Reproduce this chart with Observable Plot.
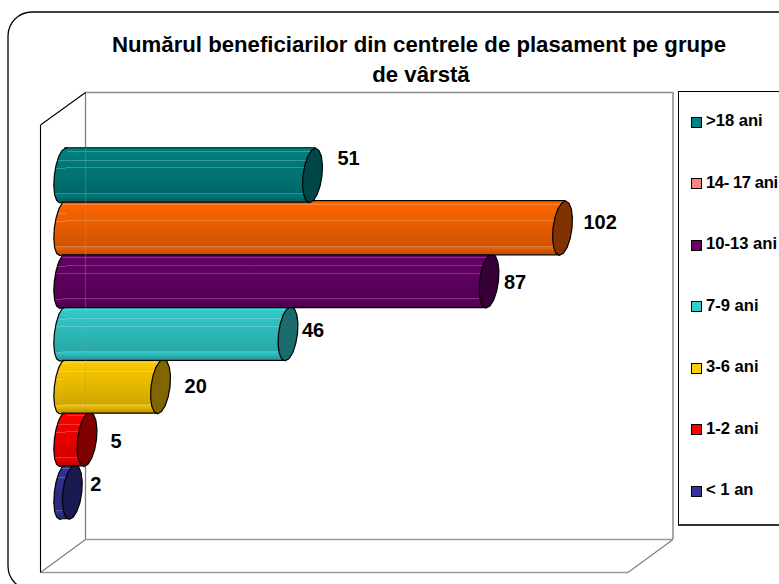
<!DOCTYPE html>
<html>
<head>
<meta charset="utf-8">
<script src="https://cdn.jsdelivr.net/npm/d3@7"></script>
<script src="https://cdn.jsdelivr.net/npm/@observablehq/plot@0.6"></script>
<style>
  html, body { margin: 0; padding: 0; background: #fff; overflow: hidden; }
  #root { position: relative; width: 779px; height: 584px; font-family: "Liberation Sans", Arial, sans-serif; color: #000; overflow: hidden; }
  #root svg { position: absolute; left: 0; top: 0; }
  #title { position: absolute; left: 60px; top: 30px; width: 718px; text-align: center; font-weight: bold; font-size: 22.2px; line-height: 30px; z-index: 2; }
  #title span { display: block; white-space: nowrap; }
  #title span + span { margin-left: 4px; }
  #legend { position: absolute; left: 678px; top: 91px; width: 120px; height: 432px; border: 1px solid #000; border-bottom: 2px solid #333; background: #fff; z-index: 2; }
  .item { position: absolute; left: 12px; display: flex; align-items: center; font-weight: bold; font-size: 16.6px; line-height: 20px; white-space: nowrap; }
  .swatch { width: 9px; height: 9px; border: 1px solid #000; margin-right: 4px; flex: none; position: relative; top: 1px; }
  .tight { letter-spacing: -0.4px; }
</style>
</head>
<body>
<div id="root">
  <div id="title"><span>Numărul beneficiarilor din centrele de plasament pe grupe</span><span>de vârstă</span></div>
  <div id="legend"></div>
</div>
<script>
const categories = [">18 ani", "14- 17 ani", "10-13 ani", "7-9 ani", "3-6 ani", "1-2 ani", "< 1 an"];
const values = [51, 102, 87, 46, 20, 5, 2];
const bodyTop = ["#008080", "#ff6600", "#660066", "#33cccc", "#ffcc00", "#ff0000", "#333399"];
const bodyBottom = ["#006464", "#c85000", "#500050", "#28a0a0", "#c8a000", "#c80000", "#282878"];
const capColors = ["#004848", "#803300", "#360036", "#1a6b6b", "#806600", "#800000", "#1a1a50"];
const legendColors = ["#008080", "#ff8080", "#660066", "#33cccc", "#ffcc00", "#ff0000", "#333399"];

const rows = categories.map((category, i) => ({category, value: values[i], i}));
const shear = 0.11;
const capRatio = 0.35;
const leftRatio = 0.3;

// Faceted ellipse, leaning like the cylinders in the picture.
function ellipsePoint(t, r, ratio) {
  const y = r * Math.sin(t);
  return [r * ratio * Math.cos(t) - shear * y, y];
}
const capSymbol = {
  draw(ctx, size) {
    const r = Math.sqrt(size / Math.PI), n = 16;
    for (let k = 0; k < n; ++k) {
      const [x, y] = ellipsePoint(2 * Math.PI * k / n, r, capRatio);
      k ? ctx.lineTo(x, y) : ctx.moveTo(x, y);
    }
    ctx.closePath();
  }
};
const leftEndSymbol = {
  draw(ctx, size) {
    const r = Math.sqrt(size / Math.PI), n = 8;
    for (let k = 0; k <= n; ++k) {
      const [x, y] = ellipsePoint(-Math.PI / 2 - Math.PI * k / n, r, leftRatio);
      k ? ctx.lineTo(x, y) : ctx.moveTo(x + 2, y);
      if (k === 0) ctx.lineTo(x, y);
      if (k === n) ctx.lineTo(x + 2, y);
    }
  }
};

function skewBars(index, scales, values, dimensions, context, next) {
  const g = next(index, scales, values, dimensions, context);
  d3.select(g).selectAll("rect").each(function () {
    const x = +this.getAttribute("x"), y = +this.getAttribute("y");
    const w = +this.getAttribute("width"), h = +this.getAttribute("height");
    const cx = x + w / 2, cy = y + h / 2;
    const a = Math.atan(-shear) * 180 / Math.PI;
    this.setAttribute("transform", `translate(${cx},${cy}) skewX(${a}) translate(${-cx},${-cy})`);
  });
  return g;
}

function defs() {
  const svg = d3.create("svg:g");
  const d = svg.append("defs");
  rows.forEach(({i}) => {
    const g = d.append("linearGradient").attr("id", `cyl${i}`).attr("x1", 0).attr("x2", 0).attr("y1", 0).attr("y2", 1);
    const mix = d3.interpolateRgb(bodyTop[i], bodyBottom[i]);
    const shine = t => d3.interpolateRgb(mix(t), "#ffffff")(0.22);
    const stripes = [0.07, 0.23, 0.37, 0.84];
    let stops = [[0, mix(0)]];
    stripes.forEach(s => {
      stops.push([s - 0.008, mix(s)], [s - 0.008, shine(s)], [s + 0.008, shine(s)], [s + 0.008, mix(s)]);
    });
    stops.push([0.42, mix(0.1)], [0.95, mix(1)], [1, mix(1)]);
    stops.forEach(([o, c]) => g.append("stop").attr("offset", o).attr("stop-color", c));
  });
  return svg.node();
}

function chrome() {
  const g = d3.create("svg:g").attr("fill", "none");
  g.append("rect").attr("x", 8).attr("y", 12).attr("width", 820).attr("height", 578).attr("rx", 24).attr("stroke", "#000").attr("stroke-width", 1.3);
  const line = (d, stroke, w) => g.append("path").attr("d", d).attr("stroke", stroke).attr("stroke-width", w);
  line("M85.5,92.5H673", "#8c8c8c", 1.3);
  line("M673,92V539", "#a6a6a6", 2);
  line("M85.5,92.5V539.5", "#808080", 1.3);
  line("M85.5,539.5H673", "#999", 1.5);
  line("M40.5,572.5H628", "#999", 1.5);
  line("M40.5,572.5L85.5,539.5", "#808080", 1.2);
  line("M628,572.5L673,539.5", "#808080", 1.2);
  line("M40.5,125V572.5", "#000", 1.1);
  line("M40.5,125L85.5,92.5", "#000", 1.1);
  return g.node();
}

function wallThrough() {
  return d3.create("svg:path").attr("d", "M85.5,147V412").attr("stroke", "#999").attr("stroke-opacity", 0.3).attr("stroke-width", 1.3).attr("fill", "none").node();
}

const labelShift = {
  ">18 ani": [25, -17], "14- 17 ani": [21, -6], "10-13 ani": [15, 2], "7-9 ani": [14, -3],
  "3-6 ani": [24, 0], "1-2 ani": [23.5, 2], "< 1 an": [18, -8]
};

const cylinderMarks = rows.slice().reverse().flatMap(row => {
  const one = [row];
  const opts = {x: "value", y: "category"};
  return [
    Plot.barX(one, {x1: 0, x2: "value", y: "category", fill: `url(#cyl${row.i})`, stroke: "#000", strokeWidth: 1.2, insetTop: -0.75, insetBottom: -0.75, render: skewBars}),
    Plot.dot(one, {x: 0, y: "category", r: 27.15, symbol: leftEndSymbol, fill: `url(#cyl${row.i})`, stroke: "#000", strokeWidth: 1.2}),
    Plot.dot(one, {...opts, r: 27.15, symbol: capSymbol, fill: capColors[row.i], stroke: "#000", strokeWidth: 1.2})
  ];
});

const labelMarks = rows.map(row => Plot.text([row], {
  x: "value", y: "category", text: d => String(d.value),
  dx: labelShift[row.category][0], dy: labelShift[row.category][1],
  textAnchor: "start", fontWeight: "bold", fontSize: 20, fontFamily: "Liberation Sans, Arial, sans-serif", fill: "#000"
}));

const plot = Plot.plot({
  width: 779, height: 584,
  marginTop: 0, marginRight: 0, marginBottom: 0, marginLeft: 0,
  style: {background: "transparent", overflow: "visible"},
  x: {domain: [0, 102], range: [62, 562], axis: null},
  y: {type: "band", domain: categories, range: [148.5, 518], padding: 0, round: false, axis: null},
  marks: [defs, chrome, ...cylinderMarks, wallThrough, ...labelMarks]
});
const root = document.getElementById("root");
root.insertBefore(plot, root.firstChild);

const legend = d3.select("#legend");
categories.forEach((c, i) => {
  const item = legend.append("div").attr("class", "item").style("top", `${19 + 61.5 * i}px`);
  item.append("span").attr("class", "swatch").style("background", legendColors[i]);
  item.append("span").attr("class", c.startsWith("14") ? "tight" : null).text(c);
});
</script>
</body>
</html>
